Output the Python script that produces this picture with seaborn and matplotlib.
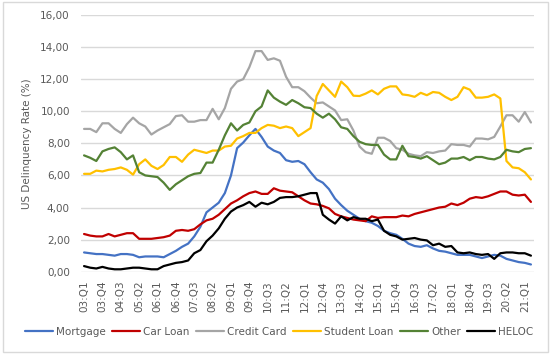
import matplotlib
matplotlib.use("Agg")
import matplotlib.pyplot as plt
import seaborn as sns
import pandas as pd
from matplotlib.patches import Rectangle
from matplotlib.lines import Line2D
from matplotlib.ticker import FuncFormatter

quarters = [f"{y:02d}:Q{q}" for y in range(3, 22) for q in range(1, 5)][:74]

mortgage = [1.2, 1.15, 1.1, 1.1, 1.05, 1.0, 1.1, 1.1, 1.05, 0.9,
            0.95, 0.95, 0.95, 0.9, 1.1, 1.3, 1.55, 1.75, 2.2, 2.8,
            3.7, 4.0, 4.3, 4.9, 6.0, 7.7, 8.05, 8.5, 8.9, 8.4,
            7.8, 7.55, 7.4, 6.95, 6.85, 6.9, 6.7, 6.2, 5.75, 5.55,
            5.15, 4.55, 4.15, 3.8, 3.55, 3.3, 3.15, 3.05, 2.85, 2.55,
            2.4, 2.3, 2.05, 1.75, 1.6, 1.55, 1.65, 1.45, 1.3, 1.25,
            1.15, 1.05, 1.05, 1.05, 0.95, 0.85, 0.95, 1.05, 1.0, 0.8,
            0.7, 0.6, 0.55, 0.45]
car_loan = [2.35, 2.25, 2.2, 2.2, 2.35, 2.2, 2.3, 2.4, 2.4, 2.05,
            2.05, 2.05, 2.1, 2.15, 2.25, 2.55, 2.6, 2.55, 2.65, 2.95,
            3.2, 3.3, 3.55, 3.9, 4.25, 4.45, 4.7, 4.9, 5.0, 4.85,
            4.85, 5.2, 5.05, 5.0, 4.95, 4.7, 4.45, 4.25, 4.2, 4.1,
            3.95, 3.6, 3.45, 3.35, 3.25, 3.2, 3.15, 3.45, 3.35, 3.4,
            3.4, 3.4, 3.5, 3.45, 3.6, 3.7, 3.8, 3.9, 4.0, 4.05,
            4.25, 4.15, 4.3, 4.55, 4.65, 4.6, 4.7, 4.85, 5.0, 5.0,
            4.8, 4.75, 4.8, 4.35]
credit_card = [8.9, 8.9, 8.7, 9.25, 9.25, 8.9, 8.65, 9.2, 9.6, 9.25,
               9.05, 8.55, 8.8, 9.0, 9.2, 9.7, 9.75, 9.35, 9.35, 9.45,
               9.45, 10.15, 9.5, 10.2, 11.4, 11.85, 12.0, 12.75, 13.75, 13.75,
               13.2, 13.3, 13.15, 12.15, 11.5, 11.5, 11.25, 10.85, 10.5, 10.55,
               10.3, 10.05, 9.45, 9.5, 8.8, 7.8, 7.45, 7.35, 8.35, 8.35,
               8.15, 7.7, 7.6, 7.35, 7.25, 7.2, 7.45, 7.4, 7.5, 7.55,
               7.95, 7.9, 7.9, 7.8, 8.3, 8.3, 8.25, 8.4, 9.05, 9.75,
               9.75, 9.35, 9.95, 9.3]
student_loan = [6.1, 6.1, 6.3, 6.25, 6.35, 6.4, 6.5, 6.35, 6.05, 6.7,
                7.0, 6.6, 6.4, 6.65, 7.15, 7.15, 6.85, 7.3, 7.6, 7.5,
                7.4, 7.55, 7.55, 7.8, 7.85, 8.3, 8.45, 8.65, 8.65, 8.95,
                9.15, 9.1, 8.95, 9.05, 8.95, 8.45, 8.7, 8.95, 10.95, 11.7,
                11.3, 10.9, 11.85, 11.5, 10.97, 10.95, 11.1, 11.3, 11.05, 11.4,
                11.55, 11.55, 11.05, 11.0, 10.9, 11.15, 11.0, 11.2, 11.15, 10.9,
                10.7, 10.9, 11.5, 11.35, 10.85, 10.85, 10.9, 11.05, 10.8, 6.9,
                6.5, 6.45, 6.2, 5.75]
other = [7.25, 7.1, 6.9, 7.5, 7.65, 7.75, 7.45, 7.0, 7.25, 6.2,
         6.0, 5.95, 5.9, 5.55, 5.1, 5.45, 5.7, 5.95, 6.1, 6.15,
         6.8, 6.8, 7.6, 8.5, 9.25, 8.8, 9.15, 9.3, 10.0, 10.3,
         11.3, 10.85, 10.6, 10.4, 10.7, 10.5, 10.25, 10.2, 9.85, 9.6,
         9.85, 9.5, 9.0, 8.9, 8.45, 8.1, 7.95, 7.9, 7.9, 7.3,
         7.0, 7.0, 7.85, 7.2, 7.15, 7.05, 7.2, 6.95, 6.7, 6.8,
         7.05, 7.05, 7.15, 6.95, 7.15, 7.15, 7.05, 7.0, 7.15, 7.6,
         7.5, 7.45, 7.65, 7.7]
heloc = [0.35, 0.25, 0.2, 0.3, 0.2, 0.15, 0.15, 0.2, 0.25, 0.25,
         0.2, 0.15, 0.15, 0.35, 0.45, 0.55, 0.6, 0.7, 1.15, 1.35,
         1.9, 2.25, 2.7, 3.3, 3.75, 4.0, 4.15, 4.35, 4.05, 4.3,
         4.2, 4.35, 4.6, 4.65, 4.65, 4.7, 4.8, 4.9, 4.9, 3.55,
         3.25, 3.0, 3.45, 3.2, 3.4, 3.3, 3.3, 3.15, 3.25, 2.55,
         2.3, 2.2, 2.0, 2.05, 2.1, 2.0, 1.95, 1.65, 1.75, 1.55,
         1.6, 1.2, 1.15, 1.2, 1.1, 1.05, 1.1, 0.8, 1.15, 1.2,
         1.2, 1.15, 1.15, 1.0]

series_names = ["Mortgage", "Car Loan", "Credit Card", "Student Loan", "Other", "HELOC"]
series_values = [mortgage, car_loan, credit_card, student_loan, other, heloc]
colors = ["#4472C4", "#C00000", "#A5A5A5", "#FFC000", "#548235", "#000000"]

rows = []
for name, vals in zip(series_names, series_values):
    for i, v in enumerate(vals):
        rows.append({"idx": i, "series": name, "value": v})
df = pd.DataFrame(rows)

sns.set_theme(style="white")
plt.rcParams["font.family"] = ["DejaVu Sans"]

fig = plt.figure(figsize=(5.55, 3.55), dpi=100)
ax = fig.add_axes([81 / 555, 1 - 271.7 / 355, (534 - 81) / 555, (271.7 - 15) / 355])

palette = dict(zip(series_names, colors))
sns.lineplot(data=df, x="idx", y="value", hue="series", hue_order=series_names,
             palette=palette, linewidth=1.6, ax=ax, legend=False, zorder=3)

ax.set_xlim(-0.5, 73.5)
ax.set_ylim(0, 16)
ax.set_yticks(range(0, 17, 2))
ax.yaxis.set_major_formatter(FuncFormatter(lambda v, p: f"{v:.2f}".replace(".", ",")))
ax.grid(axis="y", color="#D9D9D9", linewidth=1.0, zorder=0)
ax.grid(axis="x", visible=False)
for s in ax.spines.values():
    s.set_visible(False)

ax.set_xticks(range(0, 74, 3))
ax.set_xticklabels(quarters[::3], rotation=90)
ax.tick_params(axis="x", length=0, pad=6, labelsize=7.5, labelcolor="#595959")
ax.tick_params(axis="y", length=0, pad=8, labelsize=7.5, labelcolor="#595959")
ax.set_xlabel("")
ax.set_ylabel("US Delinquency Rate (%)", fontsize=7.5, color="#595959", labelpad=6)

handles = [Line2D([0], [0], color=c, lw=1.6) for c in colors]
fig.legend(handles, series_names, loc="center", bbox_to_anchor=(279 / 555, 1 - 332 / 355),
           ncol=6, frameon=False, fontsize=7.5, handlelength=2.7, handletextpad=0.3,
           columnspacing=0.6, labelcolor="#595959")

fig.patches.append(Rectangle((3 / 555, 3 / 355), 545 / 555, 350 / 355,
                             transform=fig.transFigure, fill=False,
                             edgecolor="#D9D9D9", linewidth=1.0))

fig.savefig("out.png", dpi=100)
